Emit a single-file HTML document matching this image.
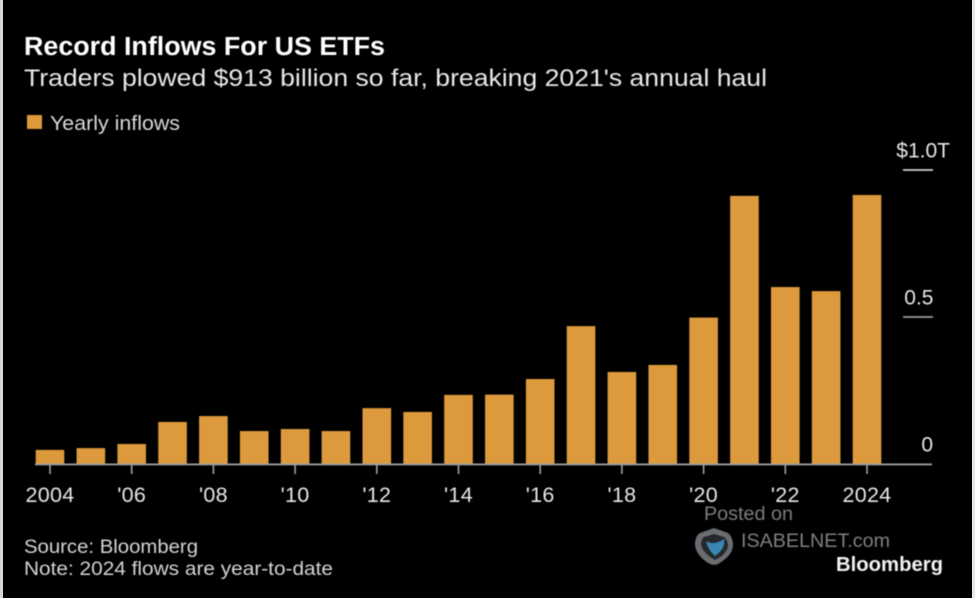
<!DOCTYPE html>
<html lang="en">
<head>
<meta charset="utf-8">
<title>Record Inflows For US ETFs</title>
<style>
html,body{margin:0;padding:0;background:#000;}
body{width:975px;height:598px;overflow:hidden;position:relative;}
svg{position:absolute;left:0;top:0;display:block;}
text{font-family:"Liberation Sans",Arial,sans-serif;}
#blurred{filter:blur(0.6px);}
</style>
</head>
<body>
<svg id="chart" width="975" height="598" viewBox="0 0 975 598" xmlns="http://www.w3.org/2000/svg">
  <rect x="0" y="0" width="975" height="598" fill="#000"/>
  <rect x="0" y="0" width="3" height="598" fill="#d8d8d8"/>
  <rect x="972" y="0" width="3" height="598" fill="#e8e8e8"/>
  <g id="blurred">
    <text x="24" y="55" font-size="25.5" font-weight="700" fill="#fff" textLength="361" lengthAdjust="spacingAndGlyphs">Record Inflows For US ETFs</text>
    <text x="24" y="86" font-size="24" fill="#e8e8e8" textLength="743" lengthAdjust="spacingAndGlyphs">Traders plowed $913 billion so far, breaking 2021's annual haul</text>
    <rect x="27" y="115" width="15" height="14" fill="#dc9a3c"/>
    <text x="50" y="130" font-size="20.5" fill="#d8d8d8" textLength="130" lengthAdjust="spacingAndGlyphs">Yearly inflows</text>
    <g id="gridlines"></g>
    <g id="bars"></g>
    <g id="x-axis"></g>
    <g id="y-labels"></g>
    <text x="24" y="553" font-size="19.5" fill="#d4d4d4" textLength="174" lengthAdjust="spacingAndGlyphs">Source: Bloomberg</text>
    <text x="24" y="575" font-size="19.5" fill="#d4d4d4" textLength="309" lengthAdjust="spacingAndGlyphs">Note: 2024 flows are year-to-date</text>
    <text x="704" y="520" font-size="19.5" fill="#7d7d7d" textLength="89" lengthAdjust="spacingAndGlyphs">Posted on</text>
    <g>
      <path d="M714 528 L728 533 Q733 537 733 546 Q732 556 718 564 Q713 566 708 563 Q696 555 695 545 Q695 536 700 533 Z" fill="#6a6d70"/>
      <path d="M714 534 L724 537 Q728 540 728 546 Q727 554 715 560 Q703 553 701 545 Q701 539 704 537 Z" fill="#24282c"/>
      <path d="M706 541 Q714 546 724 539 Q726 548 715 556 Q708 550 706 541 Z" fill="#3a87b4"/>
    </g>
    <text x="741" y="547" font-size="19.5" fill="#7f7f7f" textLength="149" lengthAdjust="spacingAndGlyphs">ISABELNET.com</text>
    <text x="836" y="571" font-size="20" font-weight="700" fill="#f2f2f2" textLength="107" lengthAdjust="spacingAndGlyphs">Bloomberg</text>
  </g>
</svg>
<script>
const years = [2004,2005,2006,2007,2008,2009,2010,2011,2012,2013,2014,2015,2016,2017,2018,2019,2020,2021,2022,2023,2024];
const inflows = [0.048,0.054,0.068,0.143,0.163,0.112,0.119,0.112,0.19,0.177,0.235,0.236,0.289,0.469,0.313,0.337,0.498,0.912,0.602,0.588,0.915];
const xTickYears = [2004,2006,2008,2010,2012,2014,2016,2018,2020,2022,2024];
const xTickLabels = ["2004","'06","'08","'10","'12","'14","'16","'18","'20","'22","2024"];
const yTickValues = [0,0.5,1];
const yTickLabels = ["0","0.5","$1.0T"];

const NS = 'http://www.w3.org/2000/svg';
const baseY = 464;
const pxPerUnit = 294;
const firstX = 50;
const stepX = 40.85;
const barW = 28.6;
function xScale(year){ return firstX + (year - years[0]) * stepX; }
function yScale(v){ return baseY - v * pxPerUnit; }
function make(tag, attrs, parent){
  const el = document.createElementNS(NS, tag);
  for (const k in attrs) el.setAttribute(k, attrs[k]);
  parent.appendChild(el);
  return el;
}
const gridG = document.getElementById('gridlines');
const barsG = document.getElementById('bars');
const xG = document.getElementById('x-axis');
const yG = document.getElementById('y-labels');

yTickValues.forEach(function(v, i){
  const y = yScale(v);
  if (v > 0) {
    const g = make('rect', {x: 903, y: y - 0.8, width: 30, height: 1.6, fill: v === 1 ? '#e0e0e0' : '#a8a8a8'}, gridG);
    
    
  }
  const t = make('text', {x: v === 0 ? 933 : 950, y: y - 12.5, 'font-size': 21, fill: '#e6e6e6', 'text-anchor': 'end'}, yG);
  if (v === 0.5) t.setAttribute('x', 933.5);
  t.textContent = yTickLabels[i];
  
  
});

const axis = make('rect', {x: 35, y: baseY - 0.5, width: 897, height: 1.8, fill: '#a0a0a0'}, xG);



years.forEach(function(year, i){
  const y = yScale(inflows[i]);
  const r = make('rect', {x: xScale(year) - barW / 2, y: y, width: barW, height: baseY - y + 0.5, fill: '#dc9a3c'}, barsG);
  
  
});

xTickYears.forEach(function(year, i){
  const x = xScale(year);
  const tick = make('rect', {x: x - 0.8, y: baseY + 1, width: 1.6, height: 9, fill: '#a0a0a0'}, xG);
  
  
  const t = make('text', {x: x, y: 502, 'font-size': 21.5, 'letter-spacing': 0.3, fill: '#e6e6e6', 'text-anchor': 'middle'}, xG);
  t.textContent = xTickLabels[i];
  
  
});
</script>
</body>
</html>
